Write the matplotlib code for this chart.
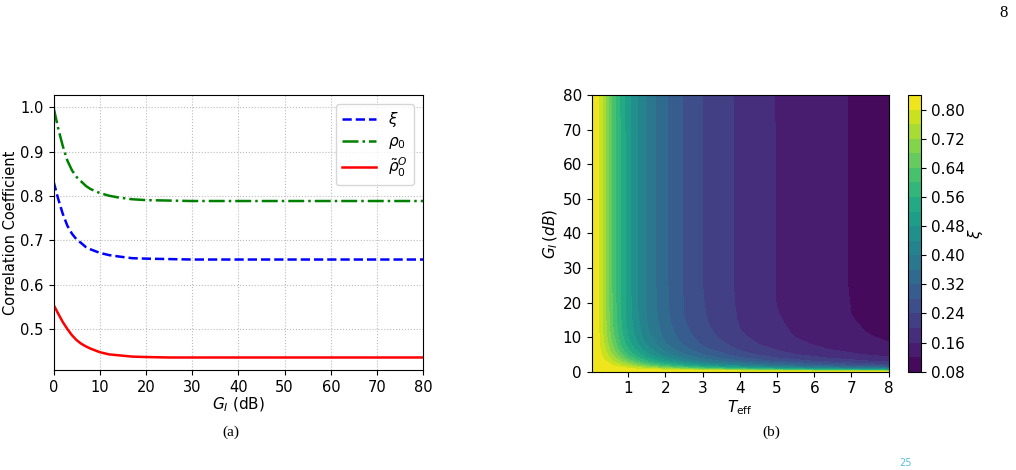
import numpy as np
import matplotlib
matplotlib.use("Agg")
import matplotlib.pyplot as plt

# --- (a) correlation coefficients vs G_I ---
gain_db = [0, 1, 2, 3, 4, 5, 6, 7, 8, 10, 12, 14, 17, 20, 25, 30, 40, 50, 60, 70, 80]
xi_curve = [0.833, 0.794, 0.760, 0.733, 0.715, 0.702, 0.694, 0.685, 0.680, 0.672, 0.667,
            0.664, 0.660, 0.659, 0.658, 0.657, 0.657, 0.657, 0.657, 0.657, 0.657]
rho0_curve = [1.000, 0.953, 0.913, 0.880, 0.858, 0.843, 0.833, 0.823, 0.816, 0.807, 0.801,
              0.797, 0.793, 0.791, 0.790, 0.789, 0.789, 0.789, 0.789, 0.789, 0.789]
rho0_tilde_curve = [0.555, 0.535, 0.516, 0.500, 0.486, 0.475, 0.467, 0.461, 0.456, 0.448, 0.443,
                    0.441, 0.438, 0.437, 0.436, 0.436, 0.436, 0.436, 0.436, 0.436, 0.436]

# --- (b) xi over (T_eff, G_I), estimated from the contour bands ---
t_eff = [0.02, 0.2, 0.4, 0.6, 0.8, 1.0, 1.25, 1.5, 2.0, 2.5, 3.0, 4.0, 4.5, 5.0, 5.5, 6.0, 6.5, 7.0, 7.5, 8.0]
g_rows = [0, 0.25, 0.5, 1, 1.5, 2, 3, 4, 5, 6.5, 8, 10, 11.5, 13, 15, 17, 20, 25, 80]
xi_table = [
    [0.835, 0.835, 0.835, 0.835, 0.835, 0.835, 0.835, 0.835, 0.835, 0.835, 0.835, 0.835, 0.835, 0.835, 0.835, 0.835, 0.835, 0.835, 0.835, 0.835],
    [0.835, 0.834, 0.833, 0.832, 0.831, 0.829, 0.828, 0.827, 0.822, 0.816, 0.810, 0.794, 0.782, 0.769, 0.757, 0.744, 0.732, 0.719, 0.707, 0.695],
    [0.835, 0.833, 0.831, 0.829, 0.826, 0.823, 0.817, 0.811, 0.797, 0.773, 0.748, 0.700, 0.675, 0.648, 0.623, 0.599, 0.583, 0.566, 0.548, 0.530],
    [0.835, 0.831, 0.827, 0.820, 0.810, 0.801, 0.779, 0.756, 0.711, 0.663, 0.615, 0.546, 0.514, 0.488, 0.464, 0.441, 0.421, 0.400, 0.385, 0.370],
    [0.834, 0.829, 0.821, 0.808, 0.790, 0.764, 0.731, 0.699, 0.629, 0.575, 0.528, 0.456, 0.425, 0.397, 0.375, 0.355, 0.338, 0.321, 0.306, 0.291],
    [0.834, 0.828, 0.814, 0.795, 0.762, 0.729, 0.688, 0.643, 0.573, 0.514, 0.470, 0.395, 0.367, 0.344, 0.322, 0.303, 0.284, 0.270, 0.256, 0.243],
    [0.834, 0.825, 0.802, 0.760, 0.716, 0.671, 0.612, 0.570, 0.496, 0.439, 0.392, 0.327, 0.300, 0.276, 0.258, 0.240, 0.227, 0.214, 0.201, 0.192],
    [0.834, 0.820, 0.786, 0.733, 0.679, 0.621, 0.569, 0.519, 0.448, 0.390, 0.349, 0.283, 0.261, 0.239, 0.223, 0.208, 0.195, 0.184, 0.174, 0.164],
    [0.834, 0.817, 0.772, 0.711, 0.647, 0.590, 0.535, 0.489, 0.415, 0.360, 0.320, 0.259, 0.236, 0.218, 0.200, 0.188, 0.176, 0.165, 0.156, 0.149],
    [0.833, 0.813, 0.755, 0.686, 0.613, 0.561, 0.503, 0.457, 0.383, 0.333, 0.291, 0.234, 0.214, 0.196, 0.183, 0.169, 0.157, 0.149, 0.141, 0.133],
    [0.833, 0.810, 0.744, 0.668, 0.593, 0.540, 0.482, 0.436, 0.364, 0.315, 0.274, 0.221, 0.199, 0.185, 0.170, 0.157, 0.149, 0.140, 0.131, 0.122],
    [0.833, 0.807, 0.733, 0.650, 0.579, 0.520, 0.466, 0.418, 0.349, 0.300, 0.261, 0.208, 0.190, 0.175, 0.159, 0.150, 0.141, 0.131, 0.122, 0.115],
    [0.833, 0.806, 0.728, 0.641, 0.571, 0.513, 0.458, 0.409, 0.343, 0.292, 0.255, 0.202, 0.186, 0.169, 0.156, 0.146, 0.137, 0.127, 0.118, 0.112],
    [0.833, 0.805, 0.725, 0.636, 0.566, 0.508, 0.452, 0.403, 0.338, 0.287, 0.250, 0.199, 0.182, 0.166, 0.154, 0.144, 0.134, 0.124, 0.116, 0.110],
    [0.833, 0.804, 0.721, 0.631, 0.562, 0.503, 0.447, 0.398, 0.333, 0.282, 0.246, 0.196, 0.179, 0.163, 0.152, 0.142, 0.131, 0.121, 0.115, 0.108],
    [0.833, 0.803, 0.719, 0.628, 0.559, 0.500, 0.443, 0.396, 0.331, 0.279, 0.244, 0.195, 0.178, 0.161, 0.150, 0.140, 0.130, 0.1197, 0.113, 0.107],
    [0.833, 0.803, 0.717, 0.625, 0.556, 0.498, 0.441, 0.393, 0.328, 0.278, 0.242, 0.193, 0.176, 0.159, 0.149, 0.139, 0.129, 0.119, 0.113, 0.106],
    [0.833, 0.802, 0.716, 0.623, 0.554, 0.496, 0.439, 0.392, 0.327, 0.276, 0.240, 0.192, 0.175, 0.159, 0.148, 0.138, 0.128, 0.118, 0.112, 0.105],
    [0.833, 0.802, 0.716, 0.622, 0.553, 0.495, 0.438, 0.391, 0.326, 0.276, 0.239, 0.192, 0.175, 0.158, 0.148, 0.138, 0.127, 0.118, 0.112, 0.105],
]
cbar_ticks = [0.08, 0.16, 0.24, 0.32, 0.40, 0.48, 0.56, 0.64, 0.72, 0.80]

fig = plt.figure(figsize=(10.16, 4.70), dpi=100)

# left panel
ax1 = fig.add_axes([0.0527, 0.2128, 0.3639, 0.5851])
ax1.plot(gain_db, xi_curve, color='blue', linestyle='--', linewidth=1.8, label=r'$\xi$')
ax1.plot(gain_db, rho0_curve, color='green', linestyle='-.', linewidth=1.8, label=r'$\rho_0$')
ax1.plot(gain_db, rho0_tilde_curve, color='red', linestyle='-', linewidth=1.8,
         label=r'$\tilde{\rho}_0^O$')
ax1.set_xlim(0, 80)
ax1.set_xlabel(r'$G_I$ (dB)', fontsize=11, labelpad=1)
ax1.set_ylabel('Correlation Coefficient', fontsize=10.5, labelpad=2)
ax1.tick_params(labelsize=10.5)
ax1.grid(True, linestyle=':', color='#bbbbbb', linewidth=0.8)
ax1.legend(loc='upper right', fontsize=11, labelspacing=0.3, handlelength=2.2,
           borderaxespad=0.6)

# right panel
ax2 = fig.add_axes([0.5824, 0.2091, 0.2923, 0.5887])
levels = np.round(np.arange(0.08, 0.8401, 0.04), 2)
cs = ax2.contourf(t_eff, g_rows, xi_table, levels=levels, cmap='viridis')
ax2.set_xlim(t_eff[0], 8)
ax2.set_ylim(0, 80)
ax2.set_xticks([1, 2, 3, 4, 5, 6, 7, 8])
ax2.set_yticks([0, 10, 20, 30, 40, 50, 60, 70, 80])
ax2.set_xlabel(r'$T_{\rm eff}$', fontsize=11, labelpad=1)
ax2.set_ylabel(r'$G_I\,(dB)$', fontsize=11, labelpad=2)
ax2.tick_params(labelsize=11)

cax = fig.add_axes([0.8934, 0.2091, 0.0131, 0.5887])
cbar = fig.colorbar(cs, cax=cax, ticks=cbar_ticks, format='%.2f')
cbar.ax.tick_params(labelsize=11)
cbar.set_label(r'$\xi$', fontsize=11, labelpad=1)

# page decorations
fig.text(231 / 1016, 1 - 432 / 470, '(a)', ha='center', va='center',
         family='Liberation Serif', fontsize=11)
fig.text(771 / 1016, 1 - 432 / 470, '(b)', ha='center', va='center',
         family='Liberation Serif', fontsize=11)
fig.text(1004 / 1016, 1 - 13 / 470, '8', ha='center', va='center',
         family='Liberation Serif', fontsize=12)
fig.text(906 / 1016, 1 - 463 / 470, '25', ha='center', va='center',
         color='#5bc0de', fontsize=7)

fig.savefig('out.png', dpi=100)
